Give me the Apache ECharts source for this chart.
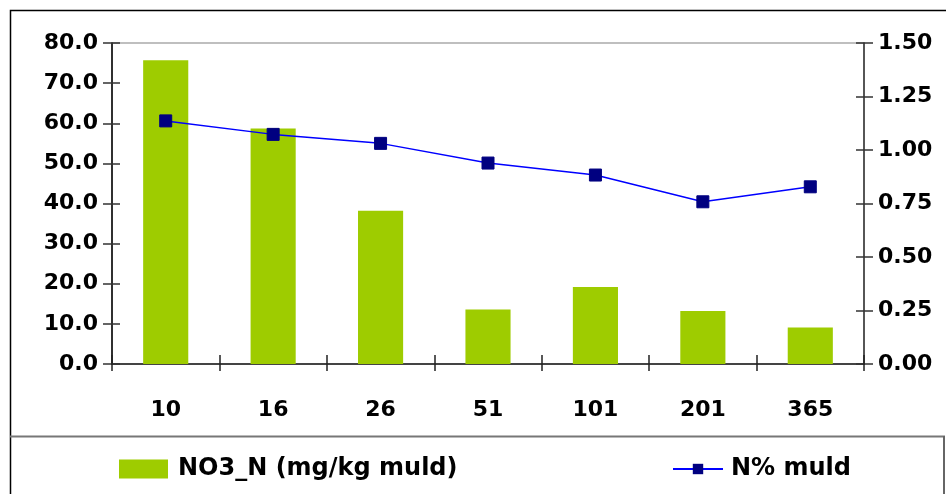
<!DOCTYPE html>
<html>
<head>
<meta charset="utf-8">
<script src="https://cdn.jsdelivr.net/npm/echarts@6/dist/echarts.min.js"></script>
<style>html,body{margin:0;padding:0;background:#fff}#c{width:946px;height:494px}</style>
</head>
<body>
<div id="c"></div>
<script>
const categories = ['10', '16', '26', '51', '101', '201', '365'];
const no3Values = [75.7, 58.7, 38.2, 13.6, 19.2, 13.2, 9.1];
const nPctValues = [1.136, 1.073, 1.031, 0.939, 0.883, 0.758, 0.828];
const barName = 'NO3_N (mg/kg muld)';
const lineName = 'N% muld';

const FONT = 'DejaVu Sans';
const chart = echarts.init(document.getElementById('c'), null, {renderer: 'canvas'});
const lbl = {fontFamily: FONT, fontWeight: 'bold', fontSize: 22, color: '#000'};

chart.setOption({
  animation: false,
  backgroundColor: '#fff',
  grid: {left: 112, right: 82, top: 43, bottom: 130, show: true, borderColor: '#aaa', borderWidth: 1.5, backgroundColor: 'transparent'},
  legend: [
    {data: [{name: barName, icon: 'rect'}], left: 114, top: 452, itemWidth: 49, itemHeight: 19, itemGap: 0,
     textStyle: {fontFamily: FONT, fontWeight: 'bold', fontSize: 24, color: '#000', padding: [0,0,0,5]}},
    {data: [lineName], left: 667, top: 452, itemWidth: 50, itemHeight: 13, itemGap: 0,
     textStyle: {fontFamily: FONT, fontWeight: 'bold', fontSize: 24, color: '#000', padding: [0,0,0,3]}}
  ],
  xAxis: [
    {type: 'category', data: categories, position: 'bottom',
     axisLine: {show: true, lineStyle: {color: '#444', width: 2}},
     axisTick: {show: true, length: 7, lineStyle: {color: '#222', width: 1.5}},
     axisLabel: {...lbl, margin: 35},
     splitLine: {show: false}},
    {type: 'category', data: categories, position: 'bottom',
     axisLine: {show: false}, axisLabel: {show: false},
     axisTick: {show: true, inside: true, length: 9, lineStyle: {color: '#222', width: 1.5}},
     splitLine: {show: false}}
  ],
  yAxis: [
    {type: 'value', min: 0, max: 80, interval: 10, position: 'left',
     axisLine: {show: true, lineStyle: {color: '#000', width: 1.5}},
     axisTick: {show: true, length: 9, lineStyle: {color: '#333', width: 1.5}},
     axisLabel: {...lbl, margin: 14, formatter: v => v.toFixed(1)},
     splitLine: {show: false}},
    {type: 'value', min: 0, max: 1.5, interval: 0.25, position: 'right',
     axisLine: {show: true, lineStyle: {color: '#333', width: 1.5}},
     axisTick: {show: true, length: 9, lineStyle: {color: '#333', width: 1.5}},
     axisLabel: {...lbl, margin: 14, formatter: v => v.toFixed(2)},
     splitLine: {show: false}},
    {type: 'value', min: 0, max: 80, interval: 10, position: 'left',
     axisLine: {show: false}, axisLabel: {show: false}, splitLine: {show: false},
     axisTick: {show: true, inside: true, length: 8, lineStyle: {color: '#333', width: 1.5}}},
    {type: 'value', min: 0, max: 1.5, interval: 0.25, position: 'right',
     axisLine: {show: false}, axisLabel: {show: false}, splitLine: {show: false},
     axisTick: {show: true, inside: true, length: 8, lineStyle: {color: '#333', width: 1.5}}}
  ],
  series: [
    {name: barName, type: 'bar', xAxisIndex: 0, yAxisIndex: 0, data: no3Values,
     barWidth: '42%', itemStyle: {color: '#9ECC00'}},
    {name: lineName, type: 'line', xAxisIndex: 0, yAxisIndex: 1, data: nPctValues,
     symbol: 'rect', symbolSize: 12, z: 5,
     lineStyle: {color: '#0000FF', width: 1.5},
     itemStyle: {color: '#000080', borderColor: '#000080'}}
  ],
  graphic: [
    {type: 'rect', silent: true, shape: {x: 10.5, y: 10.5, width: 2000, height: 2000},
     style: {fill: null, stroke: '#000', lineWidth: 1.5}},
    {type: 'line', silent: true, shape: {x1: 10, y1: 436.5, x2: 945, y2: 436.5},
     style: {stroke: '#777', lineWidth: 2}},
    {type: 'line', silent: true, shape: {x1: 944, y1: 436, x2: 944, y2: 494},
     style: {stroke: '#666', lineWidth: 2}}
  ]
});
</script>
</body>
</html>
